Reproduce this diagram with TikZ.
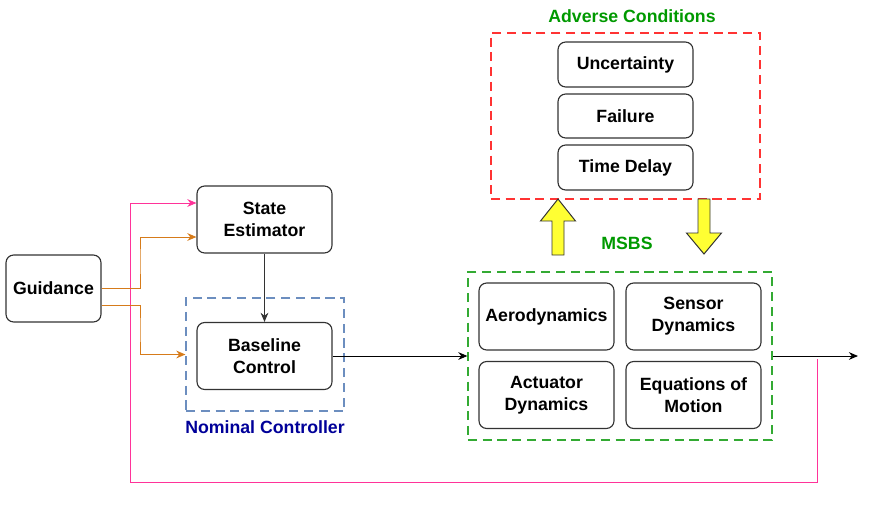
\documentclass[tikz,border=0pt]{standalone}
\usepackage{fontspec}
\setmainfont{Liberation Sans}
\usetikzlibrary{positioning,arrows.meta,calc}
\definecolor{cdOrange}{RGB}{214,123,26}
\definecolor{cdPink}{RGB}{255,51,153}
\definecolor{cdBlue}{RGB}{108,142,191}
\definecolor{cdNavy}{RGB}{0,0,153}
\definecolor{cdGreen}{RGB}{0,153,0}
\definecolor{cdGreenDash}{RGB}{51,170,51}
\definecolor{cdRed}{RGB}{255,51,51}
\definecolor{cdYellow}{RGB}{255,255,51}
\definecolor{cdEdge}{RGB}{51,51,51}

\tikzset{
  blk/.style={draw=cdEdge, line width=0.8pt, rounded corners=5.5pt, fill=white,
    align=center, minimum width=3.375cm, minimum height=1.675cm, inner sep=1pt,
    font=\bfseries\fontsize{12.6}{15.6}\selectfont},
  grp/.style={line width=0.8pt, dash pattern=on 6.5pt off 4pt, inner sep=0pt},
  grplabel/.style={font=\bfseries\fontsize{12.6}{15.6}\selectfont},
  flow/.style={-{Stealth[length=6.5pt,width=5.5pt]}, line width=0.7pt},
}

\begin{document}
\begin{tikzpicture}[x=0.025cm, y=-0.025cm]
  \useasboundingbox (0,0) rectangle (870,527);

  % Adverse conditions
  \node[grp, draw=cdRed, minimum width=6.725cm, minimum height=4.15cm] (adv) at (625.5,116) {};
  \node[grplabel, text=cdGreen] (advlbl) at (632,16) {Adverse Conditions};
  \node[blk, minimum height=1.125cm] (unc) at (625.5,64.5) {Uncertainty};
  \node[blk, minimum height=1.1cm] (fail) at (625.5,116) {Failure};
  \node[blk, minimum height=1.125cm] (delay) at (625.5,167.5) {Time Delay};

  % Controller side
  \node[blk, minimum width=2.375cm] (guid) at (53.5,288.5) {Guidance};
  \node[blk] (est) at (264.5,219.5) {State\\Estimator};
  \node[grp, draw=cdBlue, minimum width=3.95cm, minimum height=2.825cm] (nomctl) at (265,354.5) {};
  \node[blk] (base) at (264.5,356) {Baseline\\Control};
  \node[grplabel, text=cdNavy] (nomlbl) at (265,427) {Nominal Controller};

  % MSBS plant
  \node[grp, draw=cdGreenDash, minimum width=7.6cm, minimum height=4.2cm] (msbs) at (620,356) {};
  \node[grplabel, text=cdGreen] (msbslbl) at (627,243) {MSBS};
  \node[blk] (aero) at (546.5,316.5) {Aerodynamics};
  \node[blk] (sens) at (693.5,316.5) {Sensor\\Dynamics};
  \node[blk] (act) at (546.5,395) {Actuator\\Dynamics};
  \node[blk] (eom) at (693.5,395) {Equations of\\Motion};

  % Block arrows between MSBS and adverse conditions
  \filldraw[fill=cdYellow, draw=cdEdge, line width=0.7pt]
    (552,255) -- (552,221) -- (540.5,221) -- (558,199) -- (575.5,221) -- (564,221) -- (564,255) -- cycle;
  \filldraw[fill=cdYellow, draw=cdEdge, line width=0.7pt]
    (698,199) -- (698,233) -- (686.5,233) -- (704,254) -- (721.5,233) -- (710,233) -- (710,199) -- cycle;

  % Signal lines
  \coordinate (out) at (858,356);
  \coordinate (fb) at (817,359);
  \draw[flow, cdPink, line width=0.6pt] (fb) |- (130,482) |- ($(est.west)+(0,-16.5)$);
  \draw[flow, cdOrange] (guid.east) -| (140,260) |- ($(est.west)+(0,17.5)$);
  \draw[flow, cdOrange] ($(guid.east)+(0,16.5)$) -| (140,330) |- (nomctl.west);
  \draw[flow, cdEdge] (est) -- (base);
  \draw[flow] (base.east) -- (msbs.west);
  \draw[flow] (msbs.east) -- (out);
\end{tikzpicture}
\end{document}
